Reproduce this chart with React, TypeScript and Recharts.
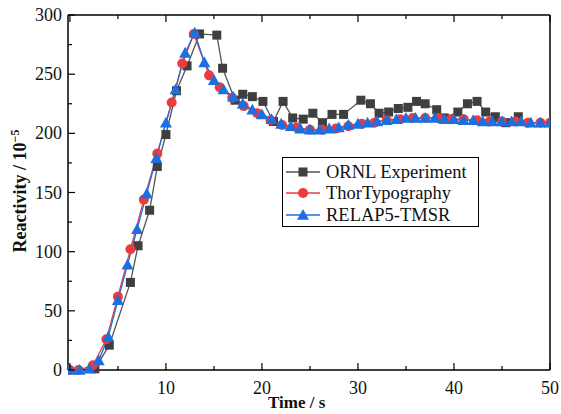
import React from "react";
import { LineChart, Line, XAxis, YAxis } from "recharts";

const ornlTime = [2.6, 4.1, 6.3, 7.1, 8.3, 9.1, 10.0, 11.1, 12.2, 13.5, 15.3, 15.9, 17.2, 18.0, 19.0, 20.1, 21.2, 22.2, 23.2, 24.3, 25.3, 26.3, 27.3, 28.5, 30.3, 31.3, 32.2, 33.2, 34.2, 35.2, 36.1, 37.0, 38.2, 39.0, 40.4, 41.4, 42.4, 43.3, 44.3, 45.4, 46.7];
const ornlValue = [1, 21, 74, 105, 135, 172, 199, 236, 257, 284, 283, 255, 228, 233, 231, 227, 210, 227, 213, 212, 217, 209, 216, 216, 228, 225, 217, 218, 221, 222, 227, 225, 220, 213, 218, 225, 227, 218, 214, 209, 214];

const thorTime = [0, 0.9, 2.4, 3.8, 5.0, 6.3, 7.7, 9.1, 10.6, 11.7, 12.9, 14.5, 15.6, 16.9, 18.1, 19.5, 20.9, 22.1, 23.6, 25.0, 26.3, 27.7, 29.0, 30.4, 31.7, 33.0, 34.4, 35.7, 37.0, 38.4, 39.7, 41.0, 42.4, 43.7, 45.0, 46.4, 47.7, 49.0, 50.0];
const thorValue = [0, 0, 4, 26, 62, 102, 144, 183, 226, 259, 284, 249, 239, 230, 223, 217, 211, 207, 205, 203, 203, 204, 206, 208, 209, 211, 212, 213, 213, 213, 212, 212, 211, 210, 210, 210, 209, 209, 209];

const relapTime = [0, 1, 2, 3, 4, 5, 6, 7, 8, 9, 10, 11, 12, 13, 14, 15, 16, 17, 18, 19, 20, 21, 22, 23, 24, 25, 26, 27, 28, 29, 30, 31, 32, 33, 34, 35, 36, 37, 38, 39, 40, 41, 42, 43, 44, 45, 46, 47, 48, 49, 50];
const relapValue = [0, 0, 1, 8, 28, 59, 89, 119, 149, 179, 209, 237, 268, 285, 260, 245, 237, 231, 225, 220, 216, 212, 208, 206, 204, 203, 203, 204, 205, 207, 208, 209, 210, 211, 212, 213, 213, 213, 213, 212, 212, 211, 211, 210, 210, 210, 210, 210, 209, 209, 209];

const xTicks = [0, 5, 10, 15, 20, 25, 30, 35, 40, 45, 50];
const xLabels = [10, 20, 30, 40, 50];
const yTicks = [0, 25, 50, 75, 100, 125, 150, 175, 200, 225, 250, 275, 300];
const yLabels = [0, 50, 100, 150, 200, 250, 300];

const seriesNames = ["ORNL Experiment", "ThorTypography", "RELAP5-TMSR"];

const ornl = ornlTime.map((t, i) => ({ t, v: ornlValue[i] }));
const thor = thorTime.map((t, i) => ({ t, v: thorValue[i] }));
const relap = relapTime.map((t, i) => ({ t, v: relapValue[i] }));

const C_BLACK = "#3f3f3f";
const C_LINE = "#555555";
const C_RED = "#ec3a3f";
const C_BLUE = "#1c6fe0";
const FONT = "'Liberation Serif', 'Times New Roman', serif";

const Square = (p: any) => {
  if (p.cx == null || p.cy == null) return null;
  return <rect key={p.key} x={p.cx - 4.5} y={p.cy - 4.5} width={9} height={9} fill={C_BLACK} />;
};
const Circle = (p: any) => {
  if (p.cx == null || p.cy == null) return null;
  return <circle key={p.key} cx={p.cx} cy={p.cy} r={5} fill={C_RED} />;
};
const Tri = (p: any) => {
  if (p.cx == null || p.cy == null) return null;
  const s = 6;
  return (
    <polygon
      key={p.key}
      points={`${p.cx},${p.cy - s} ${p.cx - s},${p.cy + s * 0.8} ${p.cx + s},${p.cy + s * 0.8}`}
      fill={C_BLUE}
    />
  );
};

const BottomTick = (p: any) => {
  const v = p.payload.value;
  const major = v % 10 === 0;
  return (
    <g>
      <line x1={p.x} x2={p.x} y1={p.y} y2={p.y - (major ? 7 : 4)} stroke="#000" strokeWidth={1.2} />
      {xLabels.includes(v) && (
        <text x={p.x} y={p.y + 24} textAnchor="middle" fontFamily={FONT} fontSize={18} fill="#111">
          {v}
        </text>
      )}
    </g>
  );
};
const TopTick = (p: any) => {
  const v = p.payload.value;
  const major = v % 10 === 0;
  return <line x1={p.x} x2={p.x} y1={p.y} y2={p.y + (major ? 7 : 4)} stroke="#000" strokeWidth={1.2} />;
};
const LeftTick = (p: any) => {
  const v = p.payload.value;
  const major = v % 50 === 0;
  return (
    <g>
      <line x1={p.x} x2={p.x + (major ? 7 : 4)} y1={p.y} y2={p.y} stroke="#000" strokeWidth={1.2} />
      {yLabels.includes(v) && (
        <text x={p.x - 6} y={p.y + 6} textAnchor="end" fontFamily={FONT} fontSize={18} fill="#111">
          {v}
        </text>
      )}
    </g>
  );
};
const RightTick = (p: any) => {
  const v = p.payload.value;
  const major = v % 50 === 0;
  return <line x1={p.x} x2={p.x - (major ? 7 : 4)} y1={p.y} y2={p.y} stroke="#000" strokeWidth={1.2} />;
};

const LegendBox = () => {
  const rows = [
    { name: seriesNames[0], color: C_BLACK, line: C_LINE, shape: "square" },
    { name: seriesNames[1], color: C_RED, line: C_RED, shape: "circle" },
    { name: seriesNames[2], color: C_BLUE, line: C_BLUE, shape: "tri" },
  ];
  return (
    <div
      style={{
        position: "absolute",
        left: 282,
        top: 157,
        width: 197,
        height: 70,
        border: "1.3px solid #000",
        background: "#fff",
        boxSizing: "border-box",
        paddingTop: 3,
      }}
    >
      {rows.map((r) => (
        <div key={r.name} style={{ display: "flex", alignItems: "center", height: 21.5 }}>
          <svg width={40} height={20} style={{ marginLeft: 1 }}>
            <line x1={2} x2={36} y1={10} y2={10} stroke={r.line} strokeWidth={1.5} />
            {r.shape === "square" && <rect x={14.5} y={5.5} width={9} height={9} fill={r.color} />}
            {r.shape === "circle" && <circle cx={19} cy={10} r={5} fill={r.color} />}
            {r.shape === "tri" && <polygon points="19,4 13,14.8 25,14.8" fill={r.color} />}
          </svg>
          <span style={{ fontFamily: FONT, fontSize: 18.5, color: "#111", marginLeft: 2, lineHeight: "20px" }}>
            {r.name}
          </span>
        </div>
      ))}
    </div>
  );
};

export default function App() {
  return (
    <div style={{ position: "absolute", left: 0, top: 0, width: 561, height: 414, background: "#fff" }}>
      <LineChart width={561} height={414} margin={{ top: 14, right: 10, bottom: 0, left: 0 }}>
        <XAxis
          xAxisId="b"
          type="number"
          dataKey="t"
          domain={[-0.2, 50]}
          ticks={xTicks}
          tick={<BottomTick />}
          tickLine={false}
          tickSize={0}
          tickMargin={0}
          axisLine={{ stroke: "#000", strokeWidth: 1.5 }}
          height={44}
          allowDataOverflow
        />
        <XAxis
          xAxisId="top"
          orientation="top"
          type="number"
          dataKey="t"
          domain={[-0.2, 50]}
          ticks={xTicks}
          tick={<TopTick />}
          tickLine={false}
          tickSize={0}
          tickMargin={0}
          axisLine={{ stroke: "#000", strokeWidth: 1.5 }}
          height={1}
          allowDataOverflow
        />
        <YAxis
          yAxisId="l"
          type="number"
          domain={[0, 300]}
          ticks={yTicks}
          tick={<LeftTick />}
          tickLine={false}
          tickSize={0}
          tickMargin={0}
          axisLine={{ stroke: "#000", strokeWidth: 1.5 }}
          width={68}
        />
        <YAxis
          yAxisId="r"
          orientation="right"
          type="number"
          domain={[0, 300]}
          ticks={yTicks}
          tick={<RightTick />}
          tickLine={false}
          tickSize={0}
          tickMargin={0}
          axisLine={{ stroke: "#000", strokeWidth: 1.5 }}
          width={1}
        />
        <Line
          xAxisId="b"
          yAxisId="l"
          data={ornl}
          dataKey="v"
          name={seriesNames[0]}
          type="linear"
          stroke={C_LINE}
          strokeWidth={1.3}
          dot={<Square />}
          activeDot={false}
          isAnimationActive={false}
        />
        <Line
          xAxisId="b"
          yAxisId="l"
          data={thor}
          dataKey="v"
          name={seriesNames[1]}
          type="linear"
          stroke={C_RED}
          strokeWidth={1.3}
          dot={<Circle />}
          activeDot={false}
          isAnimationActive={false}
        />
        <Line
          xAxisId="b"
          yAxisId="l"
          data={relap}
          dataKey="v"
          name={seriesNames[2]}
          type="linear"
          stroke={C_BLUE}
          strokeWidth={1.3}
          dot={<Tri />}
          activeDot={false}
          isAnimationActive={false}
        />
      </LineChart>
      <svg width={40} height={414} style={{ position: "absolute", left: 0, top: 0 }}>
        <text
          transform="translate(26,191) rotate(-90)"
          textAnchor="middle"
          fontFamily={FONT}
          fontSize={18}
          fontWeight="bold"
          fill="#111"
        >
          Reactivity / 10
          <tspan fontSize={12} dy={-7}>−5</tspan>
        </text>
      </svg>
      <LegendBox />
      <div
        style={{
          position: "absolute",
          left: 268,
          top: 393,
          fontFamily: FONT,
          fontSize: 17,
          fontWeight: "bold",
          color: "#111",
          whiteSpace: "nowrap",
        }}
      >
        Time / s
      </div>
    </div>
  );
}
